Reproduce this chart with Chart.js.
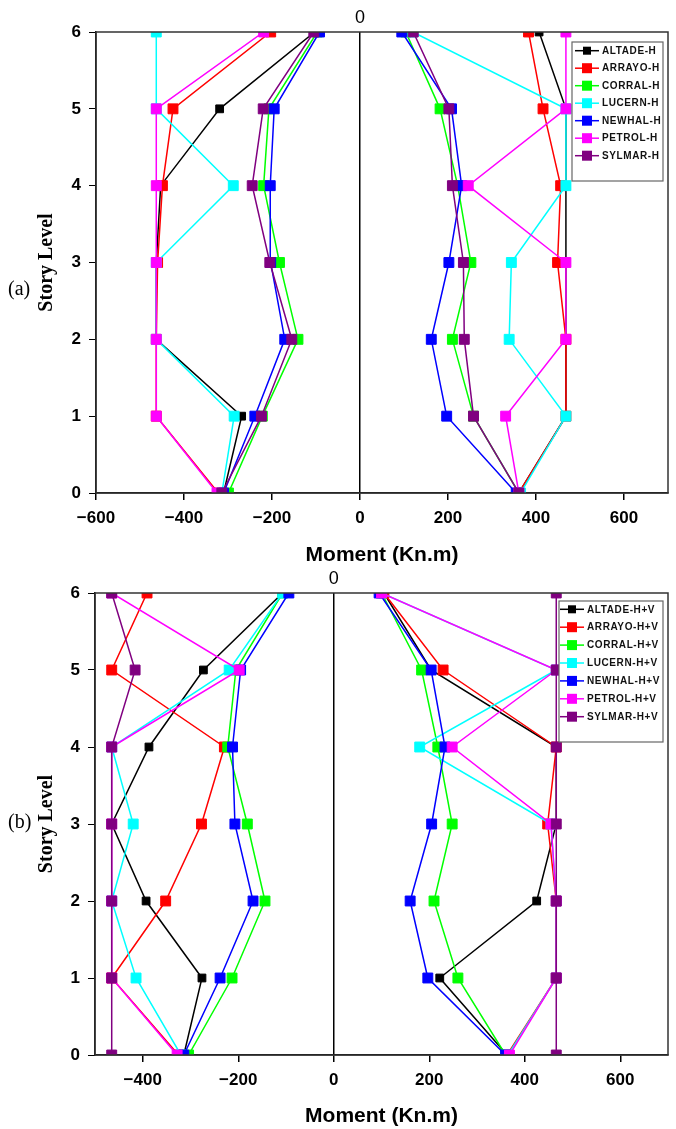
<!DOCTYPE html>
<html>
<head>
<meta charset="utf-8">
<title>Story moments</title>
<script src="https://cdn.jsdelivr.net/npm/chart.js@4.4.1/dist/chart.umd.min.js"></script>
<style>
  html, body { margin: 0; padding: 0; background: #fff; }
  #page { position: relative; width: 676px; height: 1129px; overflow: hidden; }
  canvas { position: absolute; left: 0; }
  #chartA { top: 0; }
  #chartB { top: 568px; }
  .tag { position: absolute; left: 8px; font: 20px "Liberation Serif", serif; color: #000; }
</style>
</head>
<body>
<div id="page">
  <canvas id="chartA" width="676" height="568"></canvas>
  <canvas id="chartB" width="676" height="561"></canvas>
  <div class="tag" style="top:277px">(a)</div>
  <div class="tag" style="top:810px">(b)</div>
</div>
<script>
const storyLevels = [0, 1, 2, 3, 4, 5, 6];
const recordNames = ["ALTADE", "ARRAYO", "CORRAL", "LUCERN", "NEWHAL", "PETROL", "SYLMAR"];
const lineColors = ["#000000", "#ff0000", "#00ff00", "#00ffff", "#0000ff", "#ff00ff", "#800080"];

// (a) horizontal records - moment at story levels 0..6
const altadeH_neg = [-310, -269, -463, -463, -453, -319, -103];
const arrayoH_neg = [-322, -463, -463, -460, -449, -425, -203];
const corralH_neg = [-299, -222, -141, -183, -219, -207, -97];
const lucernH_neg = [-314, -286, -463, -463, -288, -463, -463];
const newhalH_neg = [-310, -239, -171, -203, -204, -195, -92];
const petrolH_neg = [-325, -463, -463, -463, -463, -463, -219];
const sylmarH_neg = [-314, -224, -155, -205, -245, -220, -105];

const altadeH_pos = [361, 468, 468, 468, 468, 468, 407];
const arrayoH_pos = [361, 468, 468, 449, 456, 416, 383];
const corralH_pos = [361, 258, 210, 252, 222, 182, 104];
const lucernH_pos = [365, 468, 339, 344, 468, 468, 120];
const newhalH_pos = [355, 197, 162, 202, 231, 208, 95];
const petrolH_pos = [361, 331, 468, 468, 246, 468, 468];
const sylmarH_pos = [361, 258, 237, 235, 210, 202, 121];

// (b) horizontal + vertical records
const altadeHV_neg = [-314, -276, -393, -465, -387, -273, -107];
const arrayoHV_neg = [-325, -465, -352, -277, -229, -465, -391];
const corralHV_neg = [-304, -213, -144, -181, -222, -205, -107];
const lucernHV_neg = [-320, -414, -465, -420, -465, -219, -107];
const newhalHV_neg = [-314, -238, -169, -207, -212, -195, -94];
const petrolHV_neg = [-328, -465, -465, -465, -465, -198, -465];
const sylmarHV_neg = [-465, -465, -465, -465, -465, -416, -465];

const altadeHV_pos = [363, 222, 425, 466, 466, 204, 105];
const arrayoHV_pos = [363, 466, 466, 448, 466, 229, 105];
const corralHV_pos = [360, 260, 210, 248, 218, 184, 100];
const lucernHV_pos = [365, 466, 466, 455, 180, 466, 100];
const newhalHV_pos = [360, 197, 160, 205, 233, 204, 95];
const petrolHV_pos = [368, 466, 466, 455, 248, 466, 100];
const sylmarHV_pos = [466, 466, 466, 466, 466, 466, 466];

const xTicksA = [-600, -400, -200, 0, 200, 400, 600];
const xTicksB = [-400, -200, 0, 200, 400, 600];

function buildDatasets(negList, posList, suffix) {
  const sets = [];
  recordNames.forEach((name, i) => {
    const common = {
      label: name + suffix,
      borderColor: lineColors[i],
      backgroundColor: lineColors[i],
      borderWidth: 1.5,
      pointStyle: "rect",
      pointRadius: i === 0 ? 5.5 : 7,
      pointBorderWidth: 1,
      showLine: true,
      tension: 0,
      order: 10 - i
    };
    sets.push({ ...common, inLegend: true, data: storyLevels.map((y, k) => ({ x: negList[i][k], y })) });
    sets.push({ ...common, inLegend: false, data: storyLevels.map((y, k) => ({ x: posList[i][k], y })) });
  });
  return sets;
}

// thin box round the plot area
const plotFrame = {
  id: "plotFrame",
  afterDatasetsDraw(chart) {
    const { ctx, chartArea: a } = chart;
    ctx.save();
    ctx.strokeStyle = "#333";
    ctx.lineWidth = 1.5;
    ctx.strokeRect(a.left, a.top, a.right - a.left, a.bottom - a.top);
    ctx.restore();
  }
};

// legend drawn inside the plot, with a border
const boxLegend = {
  id: "boxLegend",
  afterDraw(chart, args, opts) {
    const ctx = chart.ctx;
    const items = chart.data.datasets.filter((d) => d.inLegend);
    ctx.save();
    ctx.fillStyle = "#fff";
    ctx.fillRect(opts.x, opts.y, opts.w, opts.h);
    ctx.strokeStyle = "#666";
    ctx.lineWidth = 1.2;
    ctx.strokeRect(opts.x, opts.y, opts.w, opts.h);
    ctx.font = "bold 10px 'Liberation Sans', Arial, sans-serif";
    ctx.textBaseline = "middle";
    if ("letterSpacing" in ctx) ctx.letterSpacing = "0.6px";
    items.forEach((ds, i) => {
      const cy = opts.y + opts.first + i * opts.row;
      const x0 = opts.x + opts.lineStart;
      ctx.strokeStyle = ds.borderColor;
      ctx.lineWidth = 1.5;
      ctx.beginPath();
      ctx.moveTo(x0, cy);
      ctx.lineTo(x0 + 24, cy);
      ctx.stroke();
      const s = i === 0 ? 8 : 10;
      ctx.fillStyle = ds.borderColor;
      ctx.fillRect(x0 + 12 - s / 2, cy - s / 2, s, s);
      ctx.fillStyle = "#111";
      ctx.fillText(ds.label, x0 + 27, cy + 0.5);
    });
    ctx.restore();
  }
};

function makeChart(canvasId, datasets, o) {
  return new Chart(document.getElementById(canvasId), {
    type: "scatter",
    data: { datasets },
    options: {
      responsive: false,
      animation: false,
      layout: { padding: { left: 0, right: o.padRight, top: 0, bottom: 0 } },
      plugins: {
        legend: { display: false },
        tooltip: { enabled: false },
        boxLegend: o.legend
      },
      scales: {
        x: {
          type: "linear",
          position: "bottom",
          min: o.xMin,
          max: 700,
          afterBuildTicks: (s) => { s.ticks = o.xTicks.map((v) => ({ value: v })); },
          afterFit: (s) => { s.height = o.bottomH; },
          ticks: {
            color: "#000",
            padding: 8,
            callback: (v) => String(v).replace("-", "\u2212"),
            font: { family: "'Liberation Sans', Arial, sans-serif", size: 17, weight: "bold" }
          },
          grid: {
            drawOnChartArea: true,
            color: (c) => (c.tick && c.tick.value === 0 ? "#000" : "rgba(0,0,0,0)"),
            tickColor: "#000",
            tickLength: 7,
            lineWidth: 1.5
          },
          border: { color: "#000", width: 1.5 },
          title: {
            display: true,
            text: "Moment (Kn.m)",
            color: "#000",
            padding: { top: 0, bottom: 0 },
            font: { family: "'Liberation Sans', Arial, sans-serif", size: 21, weight: "bold" }
          }
        },
        xTop: {
          type: "linear",
          position: "top",
          min: o.xMin,
          max: 700,
          afterBuildTicks: (s) => { s.ticks = [{ value: 0 }]; },
          afterFit: (s) => { s.height = o.topH; },
          ticks: {
            color: "#000",
            padding: 3,
            font: { family: "'Liberation Sans', Arial, sans-serif", size: 18 }
          },
          grid: { display: false, drawTicks: false },
          border: { display: false }
        },
        y: {
          type: "linear",
          min: 0,
          max: 6,
          afterFit: (s) => { s.width = o.leftW; },
          ticks: {
            stepSize: 1,
            color: "#000",
            padding: 8,
            font: { family: "'Liberation Sans', Arial, sans-serif", size: 17, weight: "bold" }
          },
          grid: { drawOnChartArea: false, tickColor: "#000", tickLength: 7 },
          border: { color: "#000", width: 1.5 },
          title: {
            display: true,
            text: "Story Level",
            color: "#000",
            padding: { top: 35, bottom: 0 },
            font: { family: "'Liberation Serif', 'Times New Roman', serif", size: 20, weight: "bold" }
          }
        }
      }
    },
    plugins: [plotFrame, boxLegend]
  });
}

makeChart("chartA",
  buildDatasets(
    [altadeH_neg, arrayoH_neg, corralH_neg, lucernH_neg, newhalH_neg, petrolH_neg, sylmarH_neg],
    [altadeH_pos, arrayoH_pos, corralH_pos, lucernH_pos, newhalH_pos, petrolH_pos, sylmarH_pos],
    "-H"),
  {
    xMin: -600, xTicks: xTicksA, leftW: 96, padRight: 5, topH: 32, bottomH: 75,
    legend: { x: 572, y: 42, w: 91, h: 139, first: 8.7, row: 17.5, lineStart: 3 }
  });

makeChart("chartB",
  buildDatasets(
    [altadeHV_neg, arrayoHV_neg, corralHV_neg, lucernHV_neg, newhalHV_neg, petrolHV_neg, sylmarHV_neg],
    [altadeHV_pos, arrayoHV_pos, corralHV_pos, lucernHV_pos, newhalHV_pos, petrolHV_pos, sylmarHV_pos],
    "-H+V"),
  {
    xMin: -500, xTicks: xTicksB, leftW: 95, padRight: 8, topH: 25, bottomH: 74,
    legend: { x: 559, y: 33, w: 104, h: 141, first: 8.3, row: 17.9, lineStart: 1 }
  });
</script>
</body>
</html>
